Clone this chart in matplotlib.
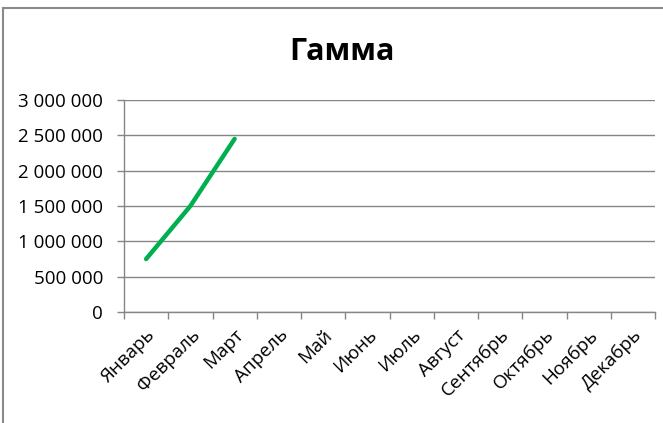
import matplotlib
matplotlib.use("Agg")
import matplotlib.pyplot as plt
from matplotlib.lines import Line2D
from matplotlib.ticker import FuncFormatter, MultipleLocator

# данные
months = ["Январь", "Февраль", "Март", "Апрель", "Май", "Июнь",
          "Июль", "Август", "Сентябрь", "Октябрь", "Ноябрь", "Декабрь"]
values = [750000, 1500000, 2450000]
title = "Гамма"

plt.rcParams["font.family"] = ["Open Sans", "DejaVu Sans"]

W, H = 663, 423
fig = plt.figure(figsize=(W / 100, H / 100), dpi=100)
ax = fig.add_axes([124 / W, 1 - 312 / H, (655 - 124) / W, (312 - 100) / H])

x = list(range(len(values)))
ax.plot(x, values, color="#00B050", linewidth=3.2, solid_capstyle="round",
        solid_joinstyle="round", zorder=3)

ax.set_xlim(-0.5, len(months) - 0.5)
ax.set_ylim(0, 3000000)
ax.yaxis.set_major_locator(MultipleLocator(500000))
ax.yaxis.set_major_formatter(FuncFormatter(lambda v, p: f"{int(v):,}".replace(",", " ")))

# категории: подписи в центре, тики на границах
ax.set_xticks(range(len(months)))
ax.set_xticklabels(months, rotation=45, ha="right", rotation_mode="anchor", fontsize=13.5)
ax.set_xticks([i - 0.5 for i in range(len(months) + 1)], minor=True)
ax.tick_params(axis="x", which="major", length=0, pad=10)
ax.tick_params(axis="x", which="minor", length=5, color="#868686", width=1)
ax.tick_params(axis="y", length=5, color="#868686", width=1, labelsize=13.5, pad=10)

ax.grid(axis="y", color="#868686", linewidth=1)
ax.set_axisbelow(True)
for s in ["top", "right"]:
    ax.spines[s].set_visible(False)
for s in ["left", "bottom"]:
    ax.spines[s].set_color("#868686")
    ax.spines[s].set_linewidth(1)

fig.text(342 / W, 1 - 52 / H, title, ha="center", va="center",
         fontsize=22, fontweight="bold")

# рамка диаграммы
fig.add_artist(Line2D([3 / W, 1], [1 - 8.5 / H, 1 - 8.5 / H], transform=fig.transFigure,
                      color="#8a8a8a", linewidth=1.5))
fig.add_artist(Line2D([3 / W, 3 / W], [0, 1 - 8.5 / H], transform=fig.transFigure,
                      color="#8a8a8a", linewidth=1.5))

fig.savefig("out.png", dpi=100)
